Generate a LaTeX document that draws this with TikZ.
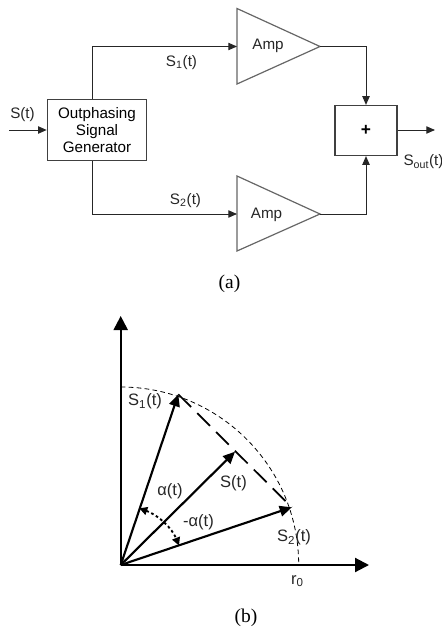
\documentclass[tikz,border=0pt]{standalone}
\usepackage{fontspec}
\setmainfont{Liberation Sans}
\newfontfamily\capfont{Liberation Serif}
\usetikzlibrary{arrows.meta}
\tikzset{
  wire/.style={line width=0.75pt,color=black!85},
  wirearrow/.style={wire,-{Triangle[length=6.5pt,width=5.5pt]}},
  block/.style={draw=black!75,line width=0.9pt,inner sep=0pt,align=center,font=\fontsize{11.4}{12.6}\selectfont},
  ampshape/.style={draw=black!60,line width=0.9pt},
  lbl/.style={inner sep=0pt,font=\fontsize{11.4}{13}\selectfont,text=black!85},
  lblb/.style={inner sep=0pt,font=\fontsize{12.4}{14}\selectfont,text=black!85},
  caption/.style={inner sep=0pt,font=\capfont\fontsize{14.6}{16}\selectfont},
  axis/.style={line width=1.6pt,-{Triangle[length=10.5pt,width=10.5pt]}},
  phasor/.style={line width=1.6pt,-{Triangle[length=9pt,width=8pt]}}
}
\begin{document}
\begin{tikzpicture}[x=0.75pt,y=0.75pt,yscale=-1]
\useasboundingbox (0,0) rectangle (442,628);

%Blocks of (a)
\node [block,minimum width=74.5pt,minimum height=46pt] (gen) at (97,130) {Outphasing\\Signal\\Generator};
\node [block,minimum width=46.5pt,minimum height=37.5pt,font=\fontsize{13}{14}\bfseries\selectfont] (sum) at (366,130.5) {+};
%Shape: Triangle
\draw [ampshape] (237,8.5) coordinate (top in up) -- (320,46.5) coordinate (top out) -- (237,84) coordinate (top in low) -- cycle ;
\draw [ampshape] (237,176) coordinate (bot in up) -- (320,214) coordinate (bot out) -- (237,251) coordinate (bot in low) -- cycle ;
\coordinate (top in) at (237,46.5);
\coordinate (bot in) at (237,214);
\coordinate (sig in) at (9,130);
\coordinate (sig out) at (435,130);

%Straight Lines
\draw [wirearrow] (sig in) -- (gen.west |- sig in) ;
\draw [wirearrow] (gen.north -| 92,0) -- (92,46.5) -- (top in) ;
\draw [wirearrow] (gen.south -| 92,0) -- (92,214) -- (bot in) ;
\draw [wirearrow] (top out) -| (sum.north) ;
\draw [wirearrow] (bot out) -| (sum.south) ;
\draw [wirearrow] (sum.east |- sig out) -- (sig out) ;

% Text Node
\node [lbl] (amp top) at (268,45.5) {Amp};
\node [lbl] (amp bot) at (266.5,215) {Amp};
\node [lbl] (sig s) at (22.5,115) {S(t)};
\node [lbl] (sig s1) at (181.5,62.5) {S\textsubscript{1}(t)};
\node [lbl] (sig s2) at (185.5,200.5) {S\textsubscript{2}(t)};
\node [lbl] (sig sout) at (423.5,162) {S\textsubscript{out}(t)};
\node [caption] (cap a) at (229.5,284) {(a)};

%Axes of (b)
\coordinate (orig) at (120.7,565);
\coordinate (y end) at (120.7,316);
\coordinate (x end) at (369,565);
\coordinate (s1 tip) at (178.3,394.3);
\coordinate (s tip) at (235,451.7);
\coordinate (s2 tip) at (291.7,507.3);
\coordinate (ang up) at (139.3,508.3);
\coordinate (ang low) at (179,545.5);

%Shape: Arc
\draw [line width=0.6pt,dash pattern=on 3.5pt off 2.5pt] (120.7,387) arc [start angle=-90,end angle=0,radius=178] ;
\draw [axis] (orig) -- (y end) ;
\draw [axis] (orig) -- (x end) ;
\draw [phasor] (orig) -- (s1 tip) ;
\draw [phasor] (orig) -- (s tip) ;
\draw [phasor] (orig) -- (s2 tip) ;
%Straight Lines
\draw [line width=1.3pt,dash pattern=on 13.5pt off 6.5pt] (s1 tip) -- (s2 tip) ;
\draw [line width=1.4pt,dash pattern=on 2pt off 2pt,{Triangle[length=6pt,width=6pt]}-{Triangle[length=6pt,width=6pt]}] (ang up) .. controls (158,515) and (172,528) .. (ang low) ;

% Text Node
\node [lblb] (lab s1) at (145,401.5) {S\textsubscript{1}(t)};
\node [lblb] (lab s) at (233.5,483.5) {S(t)};
\node [lblb] (lab s2) at (294,537.5) {S\textsubscript{2}(t)};
\node [lblb] (lab al) at (170,491.5) {α(t)};
\node [lblb] (lab mal) at (198.5,522.5) {-α(t)};
\node [lblb] (lab r) at (297.5,581) {r\textsubscript{0}};
\node [caption] (cap b) at (246,617.5) {(b)};
\end{tikzpicture}
\end{document}
